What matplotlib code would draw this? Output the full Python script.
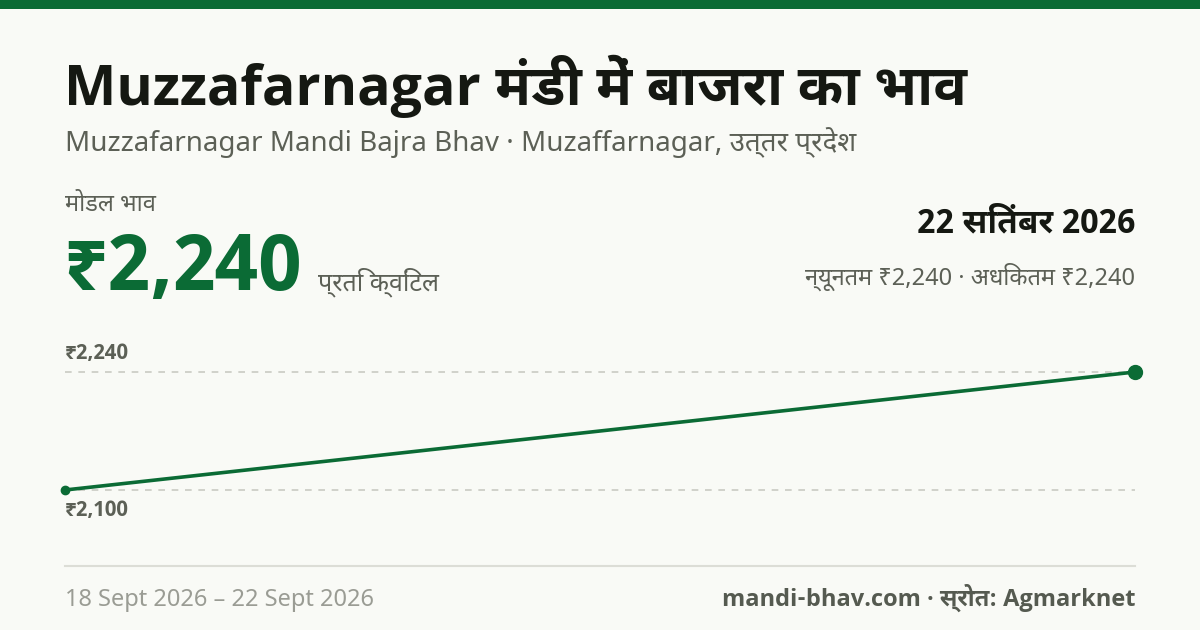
import matplotlib
matplotlib.use("Agg")
import matplotlib.pyplot as plt

# data
dates = ["18 Sept 2026", "22 Sept 2026"]
day_offsets = [0, 4]
prices = [2100, 2240]
grid_values = [2240, 2100]
grid_labels = ["₹2,240", "₹2,100"]

title = "Muzzafarnagar मंडी में बाजरा का भाव"
subtitle = "Muzzafarnagar Mandi Bajra Bhav · Muzaffarnagar, उत्तर प्रदेश"
modal_label = "मोडल भाव"
modal_price = "₹2,240"
unit = "प्रति क्विंटल"
latest_date = "22 सितंबर 2026"
min_max = "न्यूनतम ₹2,240 · अधिकतम ₹2,240"
footer_right = "mandi-bhav.com · स्रोत: Agmarknet"

GREEN = "#0b6b35"
BG = "#f9faf6"
DARK = "#151812"
GREY = "#5c6056"
LIGHT = "#9a9c94"

REG = ["Noto Sans", "Noto Sans Devanagari", "DejaVu Sans"]
BOLD = ["Noto Sans Devanagari UI", "Open Sans", "DejaVu Sans"]
plt.rcParams["font.family"] = REG

W, H = 1200, 630
fig = plt.figure(figsize=(12, 6.3), dpi=100)
fig.patch.set_facecolor(BG)


def fx(px):
    return px / W


def fy(py):
    return 1 - py / H


# top bar
fig.add_artist(plt.Rectangle((0, fy(9)), 1, 9 / H, transform=fig.transFigure,
                             color=GREEN, lw=0))

fig.text(fx(64), fy(105), title, fontsize=40, fontweight="bold", family=BOLD,
         color=DARK, va="baseline")
fig.text(fx(65), fy(151), subtitle, fontsize=20, color=GREY, va="baseline")
fig.text(fx(65), fy(211), modal_label, fontsize=17, color=GREY, va="baseline")
fig.text(fx(63), fy(290), modal_price, fontsize=56, fontweight="bold",
         family=BOLD, color=GREEN, va="baseline")
fig.text(fx(318), fy(290), unit, fontsize=18, color=GREY, va="baseline")
fig.text(fx(1135), fy(232), latest_date, fontsize=24, fontweight="bold",
         family=BOLD, color=DARK, va="baseline", ha="right")
fig.text(fx(1135), fy(285), min_max, fontsize=17, color=GREY,
         va="baseline", ha="right")

# chart
top_px, bot_px = 330, 566
ax = fig.add_axes([fx(65), fy(bot_px), fx(1135) - fx(65), (bot_px - top_px) / H])
ax.set_facecolor("none")
y_hi_px, y_lo_px = 372, 490
per_px = (grid_values[0] - grid_values[1]) / (y_lo_px - y_hi_px)
ax.set_ylim(grid_values[1] - (bot_px - y_lo_px) * per_px,
            grid_values[0] + (y_hi_px - top_px) * per_px)
ax.set_xlim(day_offsets[0], day_offsets[-1])

for v, lab in zip(grid_values, grid_labels):
    ax.axhline(v, color="#c9cac3", lw=1.2, ls=(0, (4, 4)), zorder=1)
    dy = 13 if v == max(grid_values) else -15
    ax.annotate(lab, (day_offsets[0], v), xytext=(0, dy),
                textcoords="offset points", fontsize=15, fontweight="bold",
                family=BOLD, color=GREY, va="center", ha="left")

ax.plot(day_offsets, prices, color=GREEN, lw=2.6, zorder=3, clip_on=False,
        solid_capstyle="round")
ax.plot(day_offsets[0], prices[0], "o", color=GREEN, ms=6, clip_on=False, zorder=4)
ax.plot(day_offsets[-1], prices[-1], "o", color=GREEN, ms=10, clip_on=False, zorder=4)

for s in ["top", "left", "right"]:
    ax.spines[s].set_visible(False)
ax.spines["bottom"].set_color("#dcddd6")
ax.spines["bottom"].set_linewidth(1.5)
ax.set_xticks([])
ax.set_yticks([])

fig.text(fx(65), fy(606), f"{dates[0]} – {dates[-1]}", fontsize=17,
         color=LIGHT, va="baseline")
fig.text(fx(1135), fy(606), footer_right, fontsize=17, fontweight="bold",
         family=BOLD, color="#555a50", va="baseline", ha="right")

fig.savefig("out.png", dpi=100, facecolor=BG)
